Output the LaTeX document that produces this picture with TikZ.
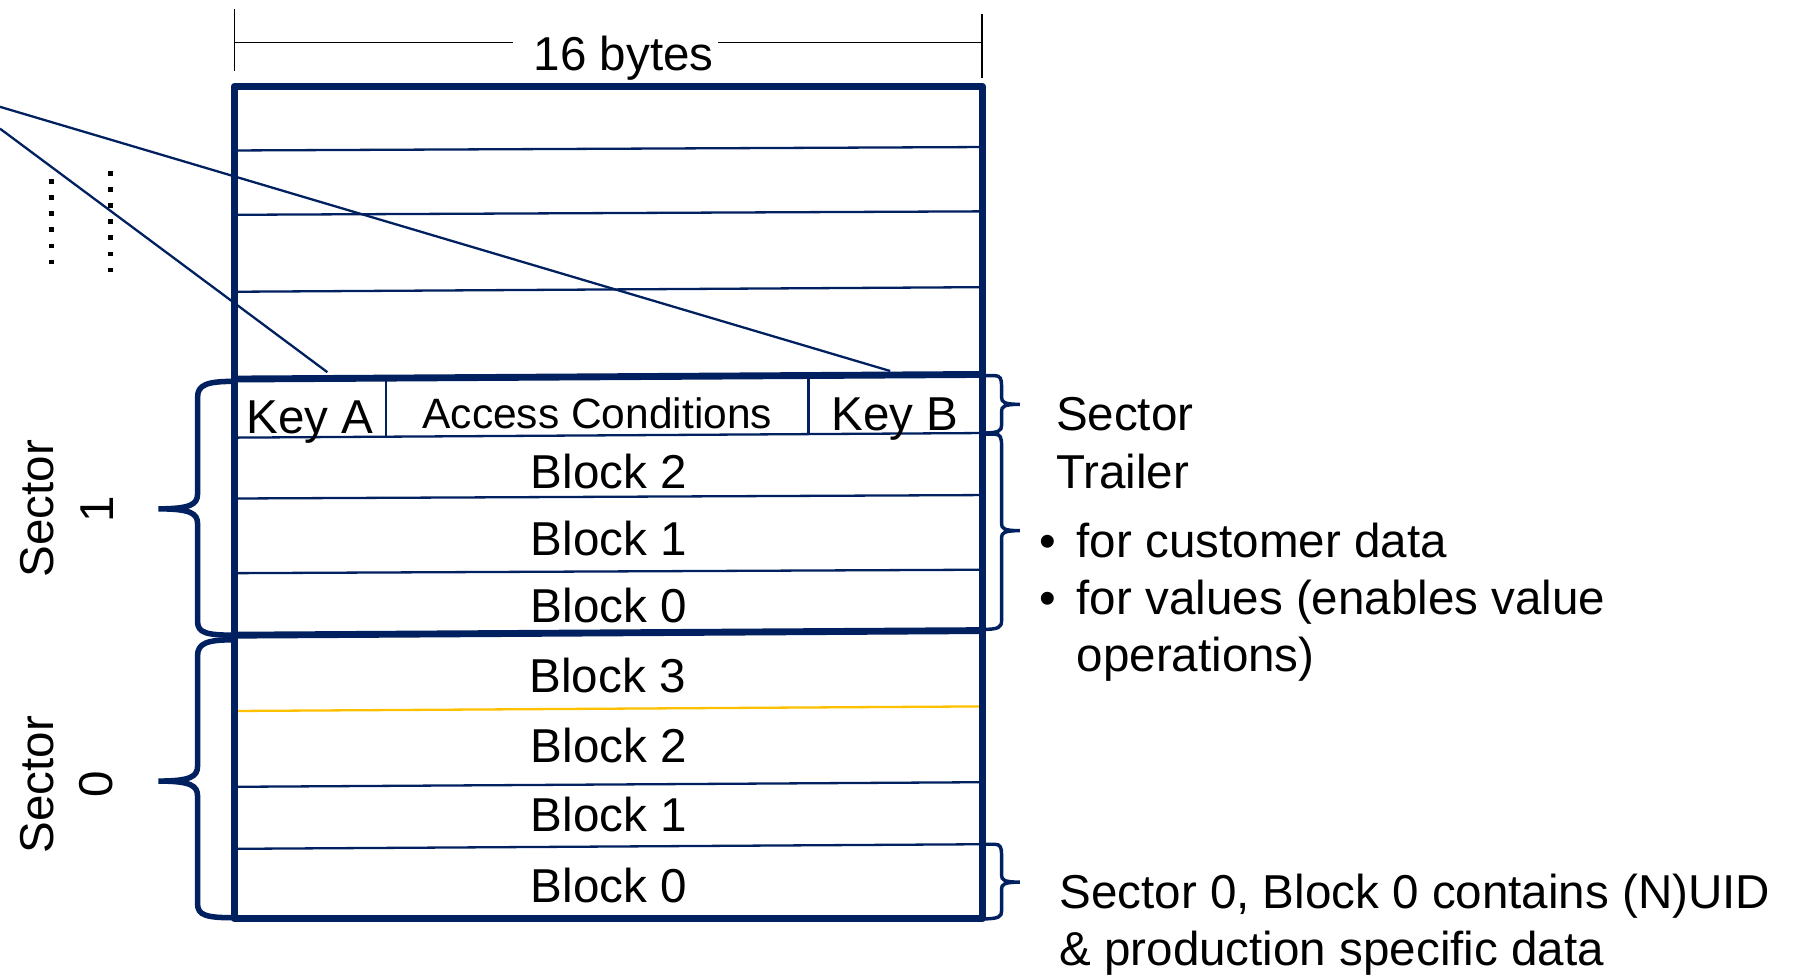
\documentclass[tikz,border=0pt]{standalone}
\usepackage{fontspec}
\setmainfont{Liberation Sans}
\definecolor{navy}{HTML}{002060}
\definecolor{gold}{HTML}{FFC000}
\begin{document}
\begin{tikzpicture}[x=0.5pt,y=-0.5pt,
  every node/.style={inner sep=0pt, font=\fontsize{20.7}{26}\selectfont},
  frame/.style={draw=navy, line width=3pt, line join=round},
  rule/.style={draw=navy, line width=1pt},
  lbrace/.style={draw=navy, line width=2.4pt, line cap=round},
  rbrace/.style={draw=navy, line width=1.5pt, line cap=round},
  dimline/.style={draw=black, line width=0.6pt},
  dotcol/.style={draw=black, line width=2pt, dash pattern=on 2pt off 5pt},
  cell/.style={anchor=base},
  note/.style={anchor=base west},
  side/.style={rotate=90, align=center}
]
\useasboundingbox (0,0) rectangle (1568,848);

% width dimension
\coordinate (dimL) at (204,37);
\coordinate (dimR) at (855,37);
\node[cell] (bytes) at (543,61) {16 bytes};
\draw[dimline] (204,8) -- (204,62);
\draw[dimline] (855,12) -- (855,68);
\draw[dimline] (dimL) -- (447,37);
\draw[dimline] (625,37) -- (dimR);

% block separators of the upper sectors
\draw[rule] (204,131) -- (855,128);
\draw[rule] (204,187) -- (855,184);
\draw[rule] (204,254) -- (855,250);

% sector 1 rows
\draw[rule] (204,381) -- (855,377);
\draw[rule] (336,330) -- (336,380);
\draw[rule] (704,327) -- (704,378);
\draw[rule] (204,434) -- (855,431);
\draw[rule] (204,499) -- (855,496);

% sector 0 rows
\draw[draw=gold, line width=1pt] (204,619) -- (855,615);
\draw[rule] (204,685) -- (855,681);
\draw[rule] (204,739) -- (855,735);

% keys pointing out of the trailer
\coordinate (offA) at (0,112);
\coordinate (offB) at (0,93);
\coordinate (keyAtop) at (285,324);
\coordinate (keyBtop) at (775,323);
\draw[rule] (offA) -- (keyAtop);
\draw[rule] (offB) -- (keyBtop);

% further sectors
\draw[dotcol] (45,156) -- (45,232);
\draw[dotcol] (96,149) -- (96,238);

% outer frame and sector borders
\draw[frame] (204,75) rectangle (855,800);
\draw[frame] (204,330) -- (855,326);
\draw[frame] (204,553) -- (855,549);

% cell texts
\node[cell] (keyA) at (270,377) {Key A};
\node[cell, font=\fontsize{18.5}{22}\selectfont] (acc) at (520,373) {Access Conditions};
\node[cell] (keyB) at (779,375) {Key B};
\node[cell] (s1b2) at (530,425) {Block 2};
\node[cell] (s1b1) at (530,484) {Block 1};
\node[cell] (s1b0) at (530,542) {Block 0};
\node[cell] (s0b3) at (529,603) {Block 3};
\node[cell] (s0b2) at (530,664) {Block 2};
\node[cell] (s0b1) at (530,724) {Block 1};
\node[cell] (s0b0) at (530,786) {Block 0};

% left braces with sector names
\draw[lbrace] (204,332) .. controls (180,332) and (172,335) .. (172,346)
  -- (172,430) .. controls (172,439) and (166,443) .. (138,443)
  .. controls (166,443) and (172,447) .. (172,456)
  -- (172,541) .. controls (172,551) and (180,553) .. (204,553);
\draw[lbrace] (204,557) .. controls (180,557) and (172,560) .. (172,571)
  -- (172,667) .. controls (172,676) and (166,680) .. (138,680)
  .. controls (166,680) and (172,684) .. (172,693)
  -- (172,787) .. controls (172,797) and (180,799) .. (204,799);
\node[side] (sec1) at (58,443) {Sector\\1};
\node[side] (sec0) at (58,683) {Sector\\0};

% right braces with notes
\draw[rbrace] (855,327) -- (866,327) .. controls (871,327) and (872,330) .. (872,336)
  -- (872,346) .. controls (872,350) and (874,352) .. (888,352)
  .. controls (874,352) and (872,354) .. (872,358)
  -- (872,370) .. controls (872,375) and (870,377) .. (855,377);
\draw[rbrace] (855,378) -- (866,378) .. controls (871,378) and (872,381) .. (872,388)
  -- (872,456) .. controls (872,460) and (874,462) .. (888,462)
  .. controls (874,462) and (872,464) .. (872,468)
  -- (872,540) .. controls (872,546) and (870,548) .. (855,548);
\draw[rbrace] (855,735) -- (866,735) .. controls (871,735) and (872,738) .. (872,744)
  -- (872,762) .. controls (872,766) and (874,768) .. (888,768)
  .. controls (874,768) and (872,770) .. (872,774)
  -- (872,793) .. controls (872,798) and (870,800) .. (855,800);

\node[note] (trl1) at (919,375) {Sector};
\node[note] (trl2) at (919,425) {Trailer};
\node[note] (bul1) at (905,485) {•};
\node[note] (dat1) at (937,485) {for customer data};
\node[note] (bul2) at (905,535) {•};
\node[note] (dat2) at (937,535) {for values (enables value};
\node[note] (dat3) at (937,585) {operations)};
\node[note] (uid1) at (922,791) {Sector 0, Block 0 contains (N)UID};
\node[note] (uid2) at (922,841) {\& production specific data};
\end{tikzpicture}
\end{document}
